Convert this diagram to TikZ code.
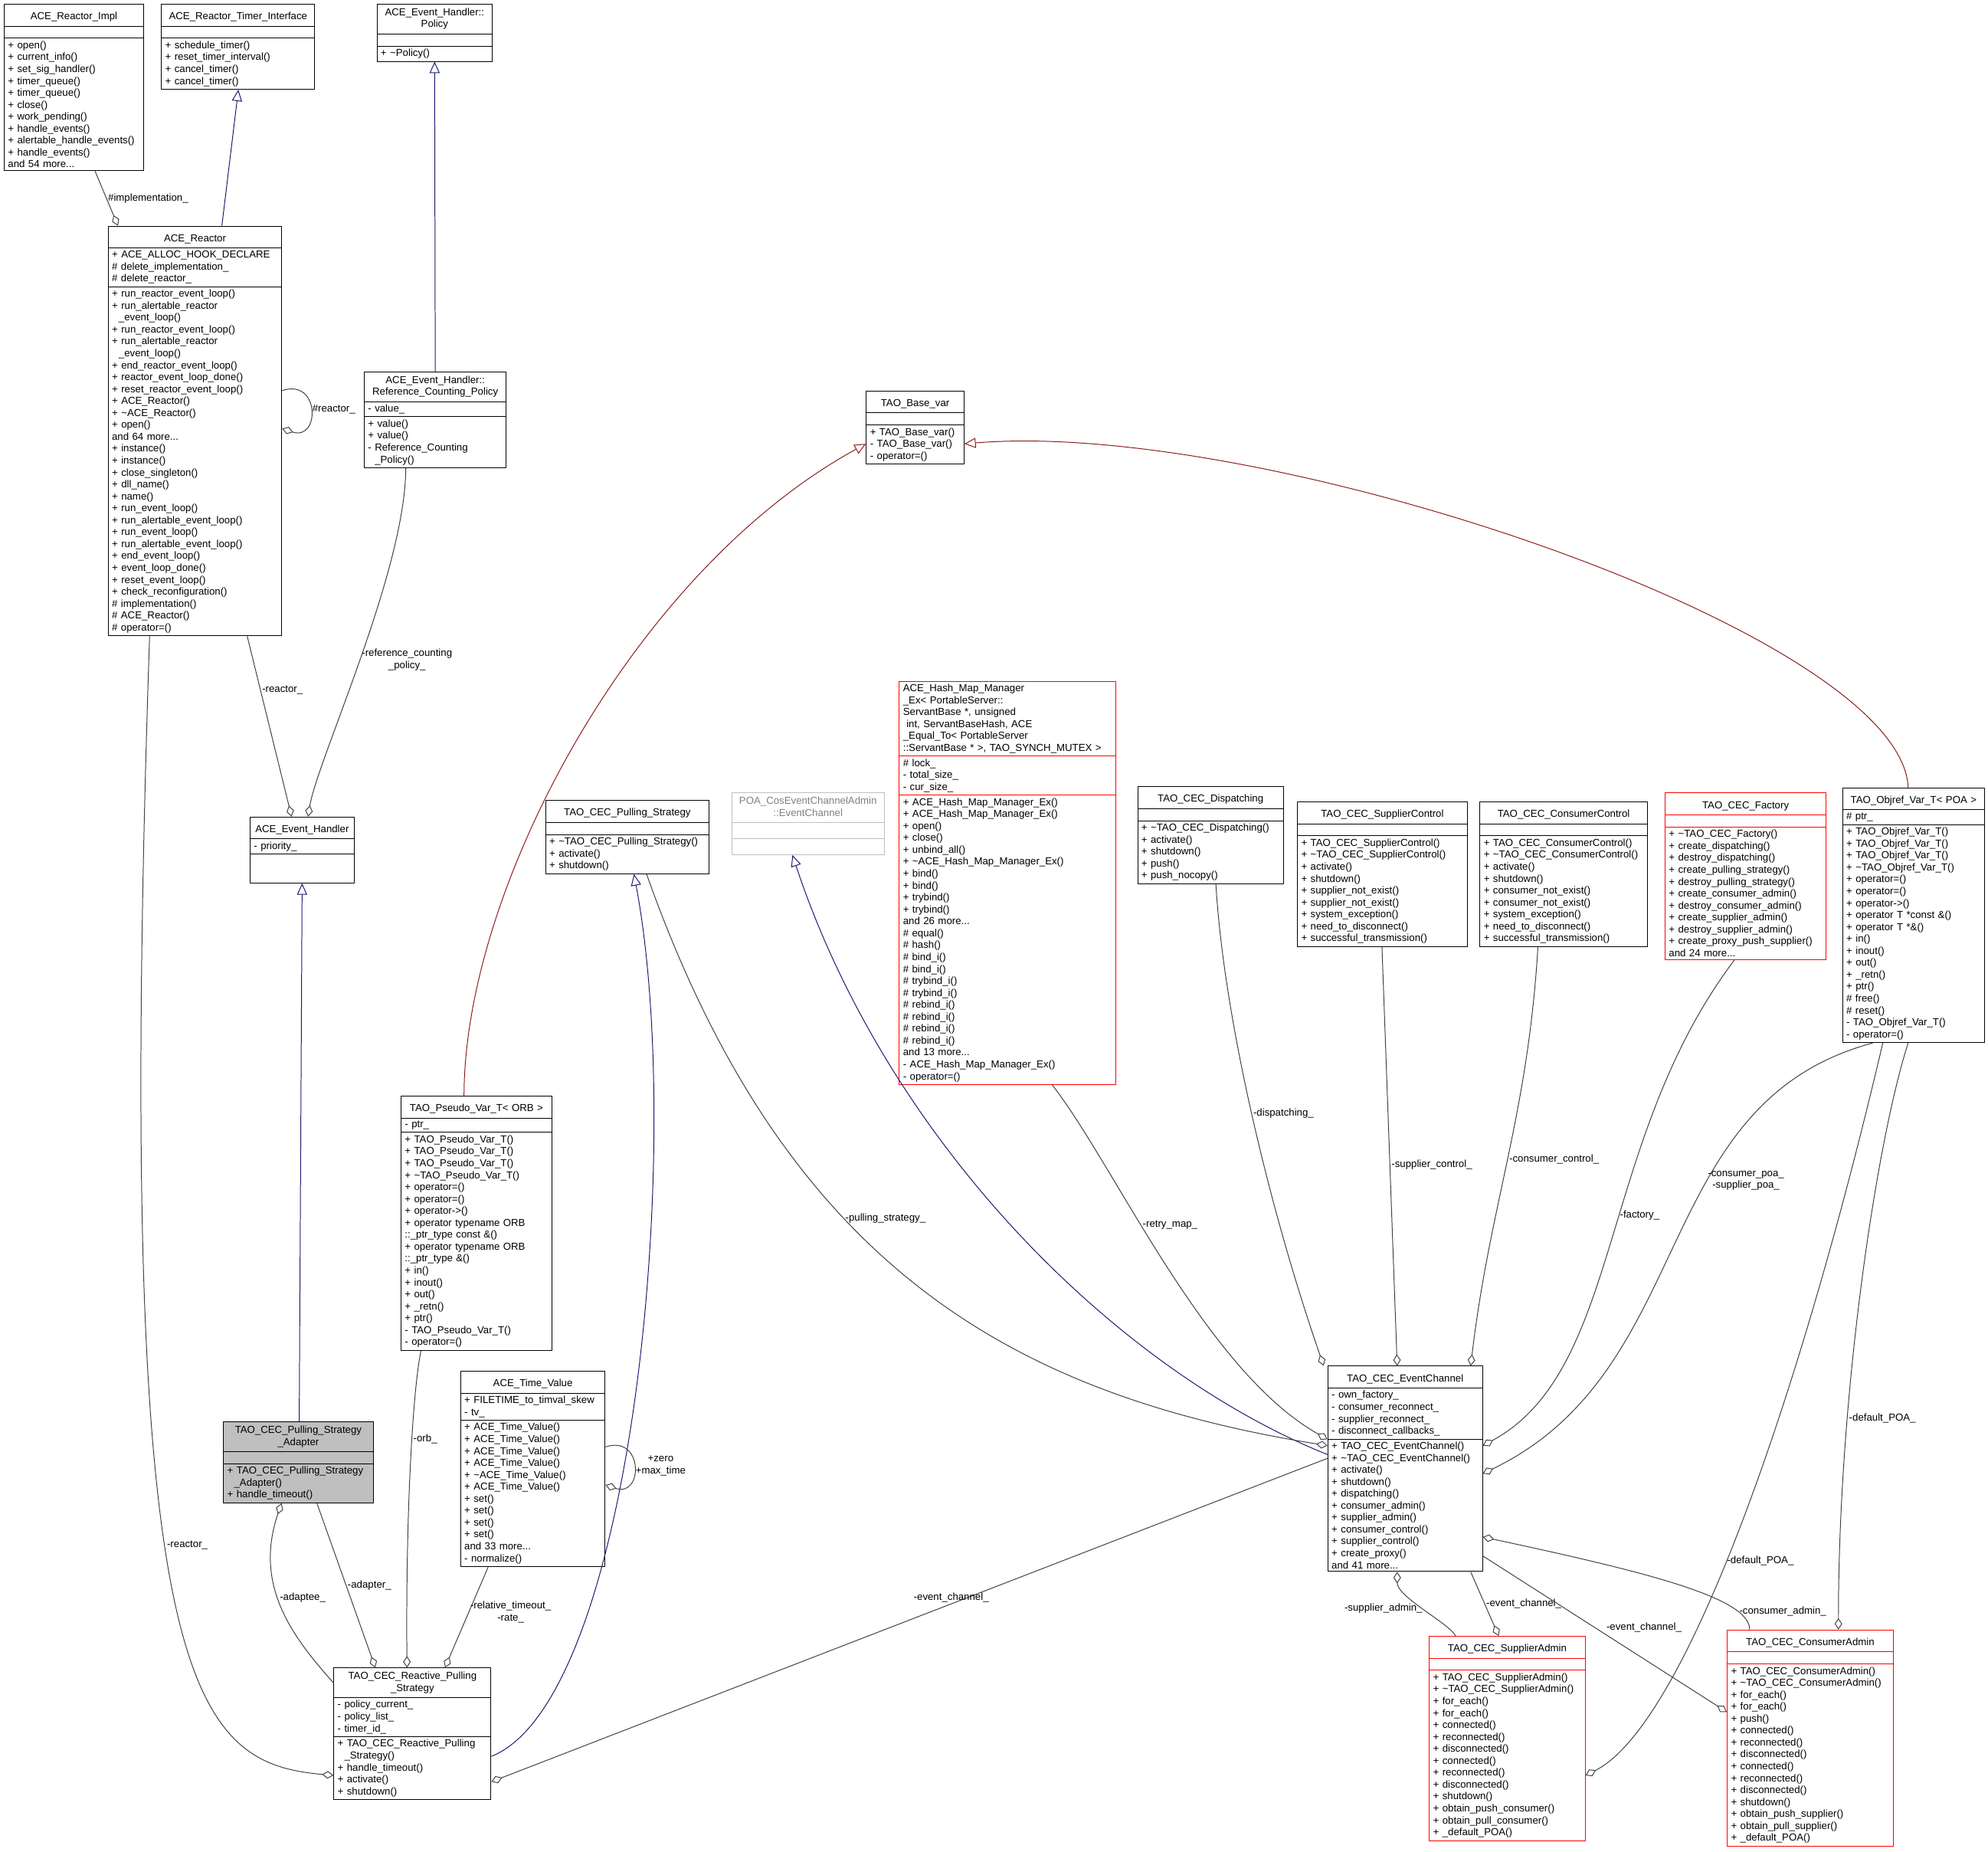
\documentclass[tikz,border=0pt]{standalone}
\usepackage{fontspec}
\setmainfont{Liberation Sans}
\usetikzlibrary{arrows.meta,shapes.multipart}
\definecolor{edgegrey}{HTML}{404040}
\definecolor{inhblue}{HTML}{191970}
\definecolor{tmplred}{HTML}{8B1A1A}
\newcommand{\ttl}[1]{\makebox[\linewidth][c]{\rule{0pt}{10pt}\begin{tabular}{@{}c@{}}#1\end{tabular}}}
\begin{document}
\begin{tikzpicture}[x=1pt,y=-1pt,
  cls/.style={draw,rectangle split,rectangle split parts=3,align=left,anchor=north west,
    font=\fontsize{8}{9.4}\selectfont,inner xsep=3pt,inner ysep=2pt,line width=0.6pt},
  redcls/.style={cls,draw=red},
  use/.style={draw=edgegrey,line width=0.6pt,{Diamond[open,length=9pt,width=6pt]}-},
  inh/.style={draw=inhblue,line width=0.6pt,{Triangle[open,length=9pt,width=8pt]}-},
  tmpl/.style={draw=tmplred,line width=0.6pt,{Triangle[open,length=9pt,width=8pt]}-},
  lbl/.style={font=\fontsize{8}{9.4}\selectfont,align=center,inner sep=1pt}]
\useasboundingbox (0,0) rectangle (1568,1460);
\newcommand{\nix}{\rule{0pt}{5pt}}

% classes
\node[cls,text width=104pt] (impl) at (3,3) {\ttl{ACE\_Reactor\_Impl}
 \nodepart{two}\nix
 \nodepart{three}+ open()\\+ current\_info()\\+ set\_sig\_handler()\\+ timer\_queue()\\+ timer\_queue()\\+ close()\\+ work\_pending()\\+ handle\_events()\\+ alertable\_handle\_events()\\+ handle\_events()\\and 54 more...};
\node[cls,text width=115pt] (timer) at (127,3) {\ttl{ACE\_Reactor\_Timer\_Interface}
 \nodepart{two}\nix
 \nodepart{three}+ schedule\_timer()\\+ reset\_timer\_interval()\\+ cancel\_timer()\\+ cancel\_timer()};
\node[cls,text width=85pt] (policy) at (297,3) {\ttl{ACE\_Event\_Handler::\\Policy}
 \nodepart{two}\nix
 \nodepart{three}+ \textasciitilde Policy()};
\node[cls,text width=131pt] (reactor) at (85,178) {\ttl{ACE\_Reactor}
 \nodepart{two}+ ACE\_ALLOC\_HOOK\_DECLARE\\\# delete\_implementation\_\\\# delete\_reactor\_
 \nodepart{three}+ run\_reactor\_event\_loop()\\+ run\_alertable\_reactor\\\ \ \_event\_loop()\\+ run\_reactor\_event\_loop()\\+ run\_alertable\_reactor\\\ \ \_event\_loop()\\+ end\_reactor\_event\_loop()\\+ reactor\_event\_loop\_done()\\+ reset\_reactor\_event\_loop()\\+ ACE\_Reactor()\\+ \textasciitilde ACE\_Reactor()\\+ open()\\and 64 more...\\+ instance()\\+ instance()\\+ close\_singleton()\\+ dll\_name()\\+ name()\\+ run\_event\_loop()\\+ run\_alertable\_event\_loop()\\+ run\_event\_loop()\\+ run\_alertable\_event\_loop()\\+ end\_event\_loop()\\+ event\_loop\_done()\\+ reset\_event\_loop()\\+ check\_reconfiguration()\\\# implementation()\\\# ACE\_Reactor()\\\# operator=()};
\node[cls,text width=106pt] (refpol) at (287,293) {\ttl{ACE\_Event\_Handler::\\Reference\_Counting\_Policy}
 \nodepart{two}- value\_
 \nodepart{three}+ value()\\+ value()\\- Reference\_Counting\\\ \ \_Policy()};
\node[cls,text width=71pt] (basevar) at (683,308) {\ttl{TAO\_Base\_var}
 \nodepart{two}\nix
 \nodepart{three}+ TAO\_Base\_var()\\- TAO\_Base\_var()\\- operator=()};
\node[cls,text width=76pt] (handler) at (197,644) {\ttl{ACE\_Event\_Handler}
 \nodepart{two}- priority\_
 \nodepart{three}\rule{0pt}{18pt}};
\node[redcls,text width=165pt] (hashmap) at (709,537) {ACE\_Hash\_Map\_Manager\\\_Ex\textless{} PortableServer::\\ServantBase *, unsigned\\\ int, ServantBaseHash, ACE\\\_Equal\_To\textless{} PortableServer\\::ServantBase * \textgreater{}, TAO\_SYNCH\_MUTEX \textgreater{}
 \nodepart{two}\# lock\_\\- total\_size\_\\- cur\_size\_
 \nodepart{three}+ ACE\_Hash\_Map\_Manager\_Ex()\\+ ACE\_Hash\_Map\_Manager\_Ex()\\+ open()\\+ close()\\+ unbind\_all()\\+ \textasciitilde ACE\_Hash\_Map\_Manager\_Ex()\\+ bind()\\+ bind()\\+ trybind()\\+ trybind()\\and 26 more...\\\# equal()\\\# hash()\\\# bind\_i()\\\# bind\_i()\\\# trybind\_i()\\\# trybind\_i()\\\# rebind\_i()\\\# rebind\_i()\\\# rebind\_i()\\\# rebind\_i()\\and 13 more...\\- ACE\_Hash\_Map\_Manager\_Ex()\\- operator=()};
\node[cls,text width=123pt] (pullstrat) at (430,631) {\ttl{TAO\_CEC\_Pulling\_Strategy}
 \nodepart{two}\nix
 \nodepart{three}+ \textasciitilde TAO\_CEC\_Pulling\_Strategy()\\+ activate()\\+ shutdown()};
\node[cls,draw=gray!50,text=gray,text width=114pt] (poaec) at (577,625) {\ttl{POA\_CosEventChannelAdmin\\::EventChannel}
 \nodepart{two}\rule{0pt}{8pt}
 \nodepart{three}\rule{0pt}{8pt}};
\node[cls,text width=109pt] (dispatch) at (897,620) {\ttl{TAO\_CEC\_Dispatching}
 \nodepart{two}\nix
 \nodepart{three}+ \textasciitilde TAO\_CEC\_Dispatching()\\+ activate()\\+ shutdown()\\+ push()\\+ push\_nocopy()};
\node[cls,text width=128pt] (supctl) at (1023,632) {\ttl{TAO\_CEC\_SupplierControl}
 \nodepart{two}\nix
 \nodepart{three}+ TAO\_CEC\_SupplierControl()\\+ \textasciitilde TAO\_CEC\_SupplierControl()\\+ activate()\\+ shutdown()\\+ supplier\_not\_exist()\\+ supplier\_not\_exist()\\+ system\_exception()\\+ need\_to\_disconnect()\\+ successful\_transmission()};
\node[cls,text width=126pt] (conctl) at (1167,632) {\ttl{TAO\_CEC\_ConsumerControl}
 \nodepart{two}\nix
 \nodepart{three}+ TAO\_CEC\_ConsumerControl()\\+ \textasciitilde TAO\_CEC\_ConsumerControl()\\+ activate()\\+ shutdown()\\+ consumer\_not\_exist()\\+ consumer\_not\_exist()\\+ system\_exception()\\+ need\_to\_disconnect()\\+ successful\_transmission()};
\node[redcls,text width=121pt] (factory) at (1313,625) {\ttl{TAO\_CEC\_Factory}
 \nodepart{two}\nix
 \nodepart{three}+ \textasciitilde TAO\_CEC\_Factory()\\+ create\_dispatching()\\+ destroy\_dispatching()\\+ create\_pulling\_strategy()\\+ destroy\_pulling\_strategy()\\+ create\_consumer\_admin()\\+ destroy\_consumer\_admin()\\+ create\_supplier\_admin()\\+ destroy\_supplier\_admin()\\+ create\_proxy\_push\_supplier()\\and 24 more...};
\node[cls,text width=106pt] (objref) at (1453,621) {\ttl{TAO\_Objref\_Var\_T\textless{} POA \textgreater{}}
 \nodepart{two}\# ptr\_
 \nodepart{three}+ TAO\_Objref\_Var\_T()\\+ TAO\_Objref\_Var\_T()\\+ TAO\_Objref\_Var\_T()\\+ \textasciitilde TAO\_Objref\_Var\_T()\\+ operator=()\\+ operator=()\\+ operator-\textgreater()\\+ operator T *const \&()\\+ operator T *\&()\\+ in()\\+ inout()\\+ out()\\+ \_retn()\\+ ptr()\\\# free()\\\# reset()\\- TAO\_Objref\_Var\_T()\\- operator=()};
\node[cls,text width=113pt] (pseudo) at (316,864) {\ttl{TAO\_Pseudo\_Var\_T\textless{} ORB \textgreater{}}
 \nodepart{two}- ptr\_
 \nodepart{three}+ TAO\_Pseudo\_Var\_T()\\+ TAO\_Pseudo\_Var\_T()\\+ TAO\_Pseudo\_Var\_T()\\+ \textasciitilde TAO\_Pseudo\_Var\_T()\\+ operator=()\\+ operator=()\\+ operator-\textgreater()\\+ operator typename ORB\\::\_ptr\_type const \&()\\+ operator typename ORB\\::\_ptr\_type \&()\\+ in()\\+ inout()\\+ out()\\+ \_retn()\\+ ptr()\\- TAO\_Pseudo\_Var\_T()\\- operator=()};
\node[cls,text width=108pt] (timeval) at (363,1081) {\ttl{ACE\_Time\_Value}
 \nodepart{two}+ FILETIME\_to\_timval\_skew\\- tv\_
 \nodepart{three}+ ACE\_Time\_Value()\\+ ACE\_Time\_Value()\\+ ACE\_Time\_Value()\\+ ACE\_Time\_Value()\\+ \textasciitilde ACE\_Time\_Value()\\+ ACE\_Time\_Value()\\+ set()\\+ set()\\+ set()\\+ set()\\and 33 more...\\- normalize()};
\node[cls,fill=gray!50,text width=112pt] (adapter) at (176,1121) {\ttl{TAO\_CEC\_Pulling\_Strategy\\\_Adapter}
 \nodepart{two}\nix
 \nodepart{three}+ TAO\_CEC\_Pulling\_Strategy\\\ \ \_Adapter()\\+ handle\_timeout()};
\node[cls,text width=116pt] (ec) at (1047,1077) {\ttl{TAO\_CEC\_EventChannel}
 \nodepart{two}- own\_factory\_\\- consumer\_reconnect\_\\- supplier\_reconnect\_\\- disconnect\_callbacks\_
 \nodepart{three}+ TAO\_CEC\_EventChannel()\\+ \textasciitilde TAO\_CEC\_EventChannel()\\+ activate()\\+ shutdown()\\+ dispatching()\\+ consumer\_admin()\\+ supplier\_admin()\\+ consumer\_control()\\+ supplier\_control()\\+ create\_proxy()\\and 41 more...};
\node[cls,text width=118pt] (reactive) at (263,1315) {\ttl{TAO\_CEC\_Reactive\_Pulling\\\_Strategy}
 \nodepart{two}- policy\_current\_\\- policy\_list\_\\- timer\_id\_
 \nodepart{three}+ TAO\_CEC\_Reactive\_Pulling\\\ \ \_Strategy()\\+ handle\_timeout()\\+ activate()\\+ shutdown()};
\node[redcls,text width=117pt] (supadm) at (1127,1290) {\ttl{TAO\_CEC\_SupplierAdmin}
 \nodepart{two}\nix
 \nodepart{three}+ TAO\_CEC\_SupplierAdmin()\\+ \textasciitilde TAO\_CEC\_SupplierAdmin()\\+ for\_each()\\+ for\_each()\\+ connected()\\+ reconnected()\\+ disconnected()\\+ connected()\\+ reconnected()\\+ disconnected()\\+ shutdown()\\+ obtain\_push\_consumer()\\+ obtain\_pull\_consumer()\\+ \_default\_POA()};
\node[redcls,text width=125pt] (conadm) at (1362,1285) {\ttl{TAO\_CEC\_ConsumerAdmin}
 \nodepart{two}\nix
 \nodepart{three}+ TAO\_CEC\_ConsumerAdmin()\\+ \textasciitilde TAO\_CEC\_ConsumerAdmin()\\+ for\_each()\\+ for\_each()\\+ push()\\+ connected()\\+ reconnected()\\+ disconnected()\\+ connected()\\+ reconnected()\\+ disconnected()\\+ shutdown()\\+ obtain\_push\_supplier()\\+ obtain\_pull\_supplier()\\+ \_default\_POA()};

% inheritance
\draw[inh] ([xshift=61pt]timer.south west) -- ([xshift=90pt]reactor.north west);
\draw[inh] (policy.south) -- (refpol.north);
\draw[inh] (handler.south) -- ([xshift=60pt]adapter.north west);
\draw[inh] ([xshift=70pt]pullstrat.south west) .. controls (540,900) and (500,1340) .. ([yshift=-70pt]reactive.north east);
\draw[inh] ([xshift=48pt]poaec.south west) .. controls (700,900) and (880,1080) .. ([yshift=-70pt]ec.north west);
\draw[tmpl] ([yshift=-42pt]basevar.north west) .. controls (500,450) and (366,700) .. ([xshift=50pt]pseudo.north west);
\draw[tmpl] ([yshift=-42pt]basevar.north east) .. controls (1000,330) and (1500,500) .. ([xshift=52pt]objref.north west);

% members
\draw[use] ([xshift=8pt]reactor.north west) -- node[lbl,pos=0.5,right]{\#implementation\_} ([xshift=72pt]impl.south west);
\draw[use] ([yshift=-160pt]reactor.north east) .. controls +(30,10) and +(30,-10) .. node[lbl,right,pos=0.5]{\#reactor\_} ([yshift=-130pt]reactor.north east);
\draw[use] ([xshift=33pt]handler.north west) -- node[lbl,pos=0.7,right]{-reactor\_} ([xshift=110pt]reactor.south west);
\draw[use] ([xshift=46pt]handler.north west) .. controls (250,600) and (320,450) .. node[lbl,pos=0.5,right]{-reference\_counting\\\_policy\_} ([xshift=33pt]refpol.south west);
\draw[use] ([yshift=-85pt]reactive.north west) .. controls (150,1390) and (90,1330) .. node[lbl,pos=0.55,right]{-reactor\_} ([xshift=33pt]reactor.south west);
\draw[use] ([xshift=46pt]adapter.south west) .. controls (200,1250) and (230,1290) .. node[lbl,pos=0.45,right]{-adaptee\_} ([yshift=-12pt]reactive.north west);
\draw[use] ([xshift=33pt]reactive.north west) -- node[lbl,pos=0.5,right]{-adapter\_} ([xshift=74pt]adapter.south west);
\draw[use] ([xshift=58pt]reactive.north west) .. controls (320,1200) and (325,1100) .. node[lbl,pos=0.6,right]{-orb\_} ([xshift=16pt]pseudo.south west);
\draw[use] ([xshift=88pt]reactive.north west) -- node[lbl,pos=0.55,right]{-relative\_timeout\_\\-rate\_} ([xshift=22pt]timeval.south west);
\draw[use] ([yshift=-90pt]timeval.north east) .. controls +(30,10) and +(30,-10) .. node[lbl,right,pos=0.5]{+zero\\+max\_time} ([yshift=-60pt]timeval.north east);
\draw[use] ([yshift=-63pt]ec.north west) .. controls (800,1100) and (620,1000) .. node[lbl,pos=0.62,right]{-pulling\_strategy\_} ([xshift=80pt]pullstrat.south west);
\draw[use] ([yshift=-58pt]ec.north west) .. controls (950,1080) and (880,920) .. node[lbl,pos=0.6,right]{-retry\_map\_} ([xshift=121pt]hashmap.south west);
\draw[use] ([xshift=-3pt]ec.north west) .. controls (1000,950) and (965,800) .. node[lbl,pos=0.5,right]{-dispatching\_} ([xshift=62pt]dispatch.south west);
\draw[use] ([xshift=55pt]ec.north west) -- node[lbl,pos=0.48,right]{-supplier\_control\_} ([xshift=67pt]supctl.south west);
\draw[use] ([xshift=113pt]ec.north west) .. controls (1175,950) and (1205,880) .. node[lbl,pos=0.5,right]{-consumer\_control\_} ([xshift=46pt]conctl.south west);
\draw[use] ([yshift=-63pt]ec.north east) .. controls (1280,1080) and (1260,900) .. node[lbl,pos=0.55,right]{-factory\_} ([xshift=55pt]factory.south west);
\draw[use] ([yshift=-85pt]ec.north east) .. controls (1340,1080) and (1300,870) .. node[lbl,pos=0.62,right]{-consumer\_poa\_\\-supplier\_poa\_} ([xshift=24pt]objref.south west);
\draw[use] ([yshift=-110pt]supadm.north east) .. controls (1330,1360) and (1420,1100) .. node[lbl,pos=0.45,right]{-default\_POA\_} ([xshift=32pt]objref.south west);
\draw[use] ([xshift=88pt]conadm.north west) .. controls (1450,1100) and (1480,900) .. node[lbl,pos=0.3,right]{-default\_POA\_} ([xshift=52pt]objref.south west);
\draw[use] ([yshift=-90pt]reactive.north east) -- node[lbl,pos=0.55,above]{-event\_channel\_} ([yshift=-73pt]ec.north west);
\draw[use] ([xshift=55pt]ec.south west) .. controls +(0,20) and +(-5,-10) .. node[lbl,pos=0.5,left]{-supplier\_admin\_} ([xshift=21pt]supadm.north west);
\draw[use] ([xshift=55pt]supadm.north west) -- node[lbl,pos=0.5,right]{-event\_channel\_} ([xshift=113pt]ec.south west);
\draw[use] ([yshift=-65pt]conadm.north west) -- node[lbl,pos=0.5,above right]{-event\_channel\_} ([yshift=-150pt]ec.north east);
\draw[use] ([yshift=-135pt]ec.north east) .. controls (1300,1240) and (1380,1260) .. node[lbl,pos=0.8,right]{-consumer\_admin\_} ([xshift=18pt]conadm.north west);
\end{tikzpicture}
\end{document}
